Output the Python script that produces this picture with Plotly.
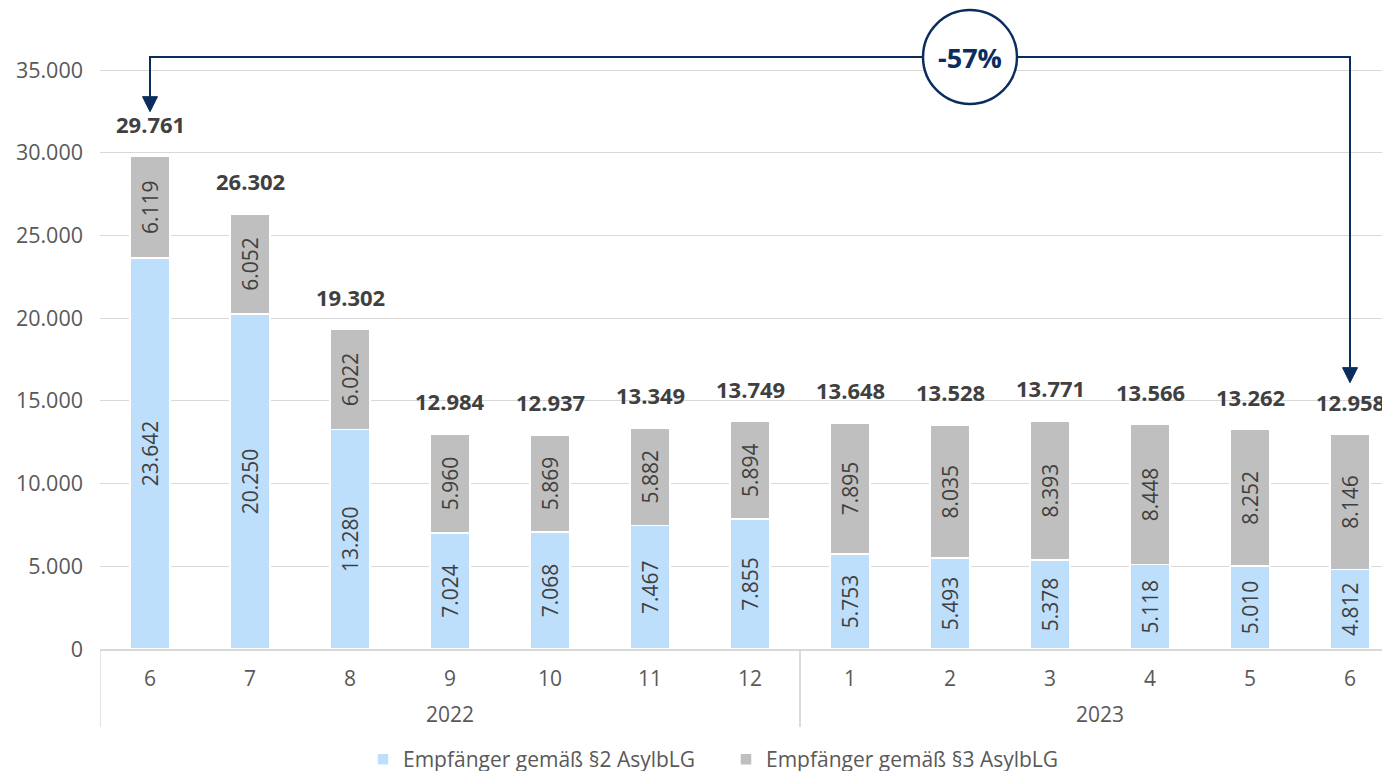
import plotly.graph_objects as go

years = ["2022"] * 7 + ["2023"] * 6
months = ["6", "7", "8", "9", "10", "11", "12", "1", "2", "3", "4", "5", "6"]
s2_values = [23642, 20250, 13280, 7024, 7068, 7467, 7855, 5753, 5493, 5378, 5118, 5010, 4812]
s3_values = [6119, 6052, 6022, 5960, 5869, 5882, 5894, 7895, 8035, 8393, 8448, 8252, 8146]
totals = [29761, 26302, 19302, 12984, 12937, 13349, 13749, 13648, 13528, 13771, 13566, 13262, 12958]
series_names = ["Empfänger gemäß §2 AsylbLG", "Empfänger gemäß §3 AsylbLG"]
change_label = "-57%"
y_ticks = [0, 5000, 10000, 15000, 20000, 25000, 30000, 35000]

FONT = "Open Sans"
GREY_TXT = "#595959"
DARK_TXT = "#404040"
NAVY = "#0B2D5E"
BLUE = "#BDDFFC"
GREY_BAR = "#BFBFBF"
GRID = "#D9D9D9"

# page body has an 8px margin: work in page pixels and convert
OFF = 8
PAGE_W, PAGE_H = 1390, 771
W, H = PAGE_W - OFF, PAGE_H - OFF
PLOT_LEFT, PLOT_BOTTOM, PLOT_TOP = 100, 649, OFF   # page pixels
K = 579 / 35000                                    # pixels per unit
ML = PLOT_LEFT - OFF
MT = PLOT_TOP - OFF
MB = PAGE_H - PLOT_BOTTOM
plot_h = PLOT_BOTTOM - PLOT_TOP
Y_TOP = plot_h / K
px = 1 / K

cats = [f"{m}/{y}" for m, y in zip(months, years)]
n = len(cats)

def fmt(v):
    return f"{v:,}".replace(",", ".")

def below(py):
    """paper y for a page pixel row below the plot area"""
    return -(py - PLOT_BOTTOM) / plot_h

def ydata(py):
    return (PLOT_BOTTOM - py) * px

fig = go.Figure()
for vals, name, col in [(s2_values, series_names[0], BLUE), (s3_values, series_names[1], GREY_BAR)]:
    fig.add_trace(go.Bar(
        x=cats, y=vals, name=name,
        marker=dict(color=col, line=dict(color="white", width=1.5)),
        width=0.4,
        text=[fmt(v) for v in vals],
        textposition="inside", insidetextanchor="middle", textangle=-90,
        textfont=dict(family=FONT, size=21, color=DARK_TXT),
        constraintext="none",
        hoverinfo="x+y+name",
    ))

annotations = []
for c, t in zip(cats, totals):
    annotations.append(dict(x=c, y=t, yanchor="bottom", yshift=16, showarrow=False,
                            text=f"<b>{fmt(t)}</b>",
                            font=dict(family=FONT, size=22, color=DARK_TXT)))

# year group labels and dividers
groups = []
for i, y in enumerate(years):
    if not groups or groups[-1][0] != y:
        groups.append([y, i, i])
    else:
        groups[-1][2] = i
shapes = []
for y, i0, i1 in groups:
    annotations.append(dict(x=(i0 + i1) / 2, y=below(714), yanchor="middle",
                            xref="x", yref="paper", showarrow=False, text=y,
                            font=dict(family=FONT, size=21, color=GREY_TXT)))
    for xd in (i0 - 0.5, i1 + 0.5):
        shapes.append(dict(type="line", xref="x", yref="paper", x0=xd, x1=xd,
                           y0=0, y1=below(727), line=dict(color=GRID, width=1.5)))

# connector arrow from first to last total
line_y = ydata(57)
tip_first = totals[0] + 45 * px
tip_last = totals[-1] + 52 * px
head = 15 * px
hw = 0.075
shapes.append(dict(type="path", xref="x", yref="y",
                   path=f"M 0,{tip_first + head} V {line_y} H {n - 1} V {tip_last + head}",
                   line=dict(color=NAVY, width=2)))
for xi, tip in [(0, tip_first), (n - 1, tip_last)]:
    shapes.append(dict(type="path", xref="x", yref="y",
                       path=f"M {xi - hw},{tip + head} L {xi + hw},{tip + head} L {xi},{tip} Z",
                       fillcolor=NAVY, line=dict(color=NAVY, width=1)))
circle_x = 8.2
shapes.append(dict(type="circle", xref="x", yref="y", xsizemode="pixel", ysizemode="pixel",
                   xanchor=circle_x, yanchor=line_y, x0=-47, x1=47, y0=-47, y1=47,
                   fillcolor="white", line=dict(color=NAVY, width=2.5)))
annotations.append(dict(x=circle_x, y=line_y, xref="x", yref="y", showarrow=False,
                        text=f"<b>{change_label}</b>",
                        font=dict(family=FONT, size=27, color=NAVY)))

fig.update_layout(
    width=W, height=H,
    margin=dict(l=ML, r=0, t=MT, b=MB, autoexpand=False),
    barmode="stack",
    separators=",.",
    plot_bgcolor="white", paper_bgcolor="white",
    font=dict(family=FONT, size=21, color=GREY_TXT),
    shapes=shapes, annotations=annotations,
    legend=dict(orientation="h", x=(726 - PLOT_LEFT) / (PAGE_W - PLOT_LEFT), xanchor="center",
                y=below(739), yanchor="top",
                entrywidth=318, entrywidthmode="pixels",
                font=dict(family=FONT, size=21, color=GREY_TXT), itemwidth=30,
                traceorder="normal"),
    xaxis=dict(type="category", range=[-0.5, n - 0.6], tickvals=cats, ticktext=months,
               automargin=False,
               showgrid=False, showline=True, linecolor=GRID, linewidth=1.5,
               ticks="", ticklabelstandoff=10,
               tickfont=dict(family=FONT, size=21, color=GREY_TXT)),
    yaxis=dict(range=[0, Y_TOP], tickvals=y_ticks, tickformat=",d", automargin=False,
               showgrid=True, gridcolor=GRID, gridwidth=1, zeroline=False,
               showline=False, ticks="", ticklabelstandoff=16,
               tickfont=dict(family=FONT, size=21.5, color=GREY_TXT)),
)

fig.write_html("out.html")
